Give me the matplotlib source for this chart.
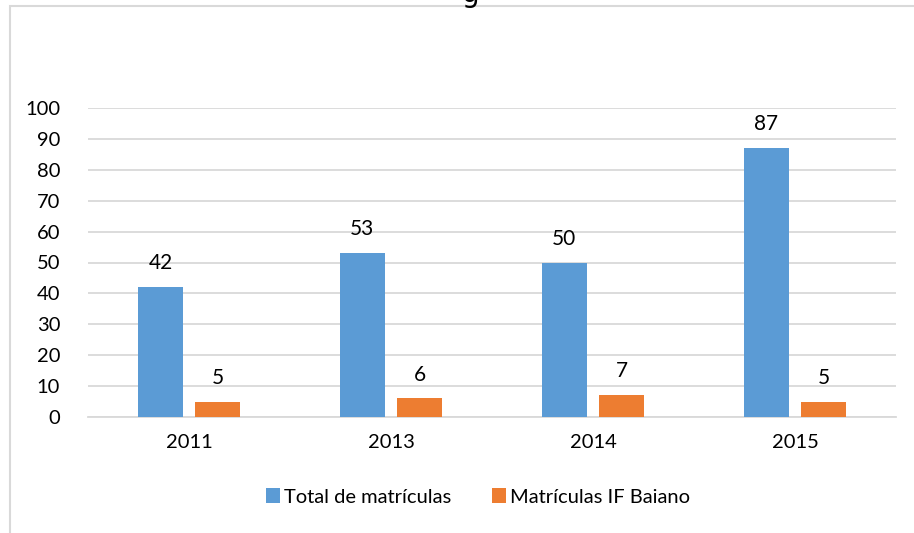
import matplotlib
matplotlib.use("Agg")
import matplotlib.pyplot as plt
import numpy as np
from matplotlib.patches import Rectangle

categories = ["2011", "2013", "2014", "2015"]
total = [42, 53, 50, 87]
ifbaiano = [5, 6, 7, 5]
series_names = ["Total de matrículas", "Matrículas IF Baiano"]

plt.rcParams['font.family'] = ['Lato', 'DejaVu Sans']

W, H = 914, 533
fig = plt.figure(figsize=(W/100, H/100), dpi=100)
ax = fig.add_axes([88/W, 1-417/H, (896-88)/W, (417-108)/H])

x = np.arange(len(categories))
bw = 0.223
gap = 0.06
off = (bw + gap) / 2
b1 = ax.bar(x - off, total, bw, color="#5B9BD5", label=series_names[0], zorder=3)
b2 = ax.bar(x + off, ifbaiano, bw, color="#ED7D31", label=series_names[1], zorder=3)

for bars in (b1, b2):
    for r in bars:
        ax.annotate(f"{int(r.get_height())}", (r.get_x() + r.get_width()/2, r.get_height()),
                    xytext=(0, 10), textcoords="offset points", ha="center", va="bottom",
                    fontsize=15, color="#000000")

ax.set_xlim(-0.5, len(categories) - 0.5)
ax.set_ylim(0, 100)
ax.set_yticks(range(0, 101, 10))
ax.set_xticks(x)
ax.set_xticklabels(categories)
ax.tick_params(axis='both', length=0, labelsize=14.5, colors="#000000")
ax.tick_params(axis='y', pad=20)
ax.tick_params(axis='x', pad=12)
ax.grid(axis='y', color="#d9d9d9", linewidth=1.3, zorder=0)
for s in ("top", "right", "left"):
    ax.spines[s].set_visible(False)
ax.spines["bottom"].set_color("#d9d9d9")
ax.spines["bottom"].set_linewidth(1.3)

fig.legend(handles=[b1, b2], labels=series_names, loc="center", bbox_to_anchor=(478/W, 1-497/H),
           ncol=2, frameon=False, fontsize=14.5, handlelength=0.7, handleheight=0.7,
           handletextpad=0.2, columnspacing=2.0)

fig.patches.append(Rectangle((10/W, -0.1), 1.0, 1 - 6/H + 0.1, transform=fig.transFigure,
                             fill=False, edgecolor="#d9d9d9", linewidth=1.5))
fig.text(470/W, 1.012, "g", ha="center", va="center", fontsize=20, family="DejaVu Sans")

fig.savefig("out.png", dpi=100)
